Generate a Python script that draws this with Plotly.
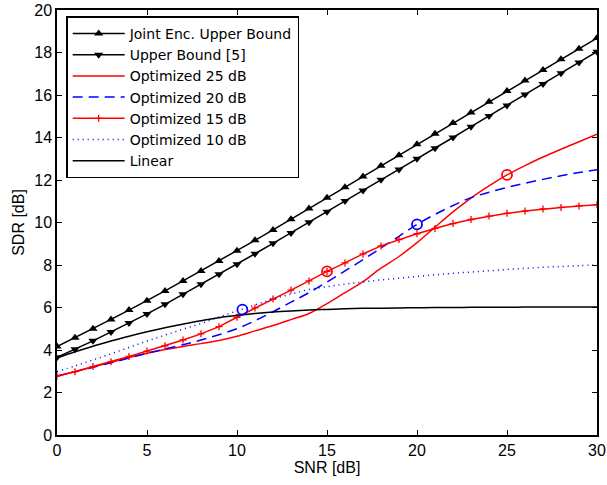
import plotly.graph_objects as go

# SNR grid in dB
snr = list(range(0, 31))

joint_upper = [4.16, 4.58, 5.00, 5.44, 5.88, 6.32, 6.78, 7.25, 7.72, 8.19, 8.67,
               9.16, 9.65, 10.15, 10.66, 11.16, 11.66, 12.16, 12.67, 13.17, 13.68,
               14.18, 14.68, 15.18, 15.68, 16.19, 16.68, 17.18, 17.68, 18.18, 18.68]
upper_bound_5 = [3.66, 4.03, 4.43, 4.85, 5.27, 5.70, 6.15, 6.62, 7.09, 7.56, 8.04,
                 8.53, 9.02, 9.51, 10.01, 10.51, 11.01, 11.51, 12.01, 12.50, 13.00,
                 13.50, 14.00, 14.51, 15.01, 15.51, 16.02, 16.52, 17.02, 17.53, 18.04]
opt25 = [2.78, 2.98, 3.20, 3.42, 3.65, 3.85, 4.02, 4.17, 4.30, 4.45, 4.65,
         4.90, 5.15, 5.43, 5.72, 6.18, 6.70, 7.22, 7.85, 8.40, 9.05,
         9.78, 10.50, 11.15, 11.72, 12.24, 12.68, 13.08, 13.45, 13.80, 14.15]
opt20 = [2.78, 2.98, 3.19, 3.40, 3.62, 3.85, 4.05, 4.25, 4.47, 4.72, 5.00,
         5.38, 5.80, 6.25, 6.70, 7.20, 7.72, 8.25, 8.80, 9.35, 9.91,
         10.38, 10.80, 11.17, 11.42, 11.65, 11.85, 12.03, 12.20, 12.35, 12.48]
opt15 = [2.78, 2.98, 3.22, 3.45, 3.70, 3.95, 4.20, 4.47, 4.76, 5.10, 5.54,
         5.98, 6.40, 6.82, 7.25, 7.70, 8.10, 8.52, 8.90, 9.20, 9.47,
         9.72, 9.95, 10.14, 10.30, 10.43, 10.54, 10.64, 10.71, 10.78, 10.84]
opt10 = [2.98, 3.25, 3.53, 3.82, 4.12, 4.42, 4.70, 4.98, 5.25, 5.55, 5.84,
         6.12, 6.40, 6.63, 6.85, 6.98, 7.10, 7.20, 7.30, 7.38, 7.46,
         7.54, 7.61, 7.67, 7.73, 7.79, 7.84, 7.89, 7.93, 7.97, 8.00]
linear = [3.62, 3.92, 4.18, 4.42, 4.65, 4.86, 5.05, 5.22, 5.38, 5.52, 5.63,
          5.72, 5.79, 5.84, 5.88, 5.91, 5.94, 5.96, 5.97, 5.98, 5.99,
          6.00, 6.00, 6.01, 6.01, 6.01, 6.02, 6.02, 6.02, 6.02, 6.02]

# Design points (SNR, SDR) of each optimized system
design_blue_snr = [10.3, 20.0]
design_blue_sdr = [5.90, 9.91]
design_red_snr = [15.0, 25.0]
design_red_sdr = [7.70, 12.24]

x_ticks = [0, 5, 10, 15, 20, 25, 30]
y_ticks = [0, 2, 4, 6, 8, 10, 12, 14, 16, 18, 20]

FONT = "Liberation Sans, Arial, sans-serif"
LEGEND_FONT = "DejaVu Sans, sans-serif"

fig = go.Figure()

fig.add_trace(go.Scatter(x=snr, y=joint_upper, name="Joint Enc. Upper Bound",
                         mode="lines+markers",
                         line=dict(color="black", width=1.5),
                         marker=dict(symbol="triangle-up", size=8, color="black")))
fig.add_trace(go.Scatter(x=snr, y=upper_bound_5, name="Upper Bound [5]",
                         mode="lines+markers",
                         line=dict(color="black", width=1.5),
                         marker=dict(symbol="triangle-down", size=8, color="black")))
fig.add_trace(go.Scatter(x=snr, y=opt25, name="Optimized 25 dB", mode="lines",
                         line=dict(color="#ff0000", width=1.5, shape="spline")))
fig.add_trace(go.Scatter(x=snr, y=opt20, name="Optimized 20 dB", mode="lines",
                         line=dict(color="#0000ff", width=1.5, dash="10px,6px",
                                   shape="spline")))
fig.add_trace(go.Scatter(x=snr, y=opt15, name="Optimized 15 dB",
                         mode="lines+markers",
                         line=dict(color="#ff0000", width=1.5),
                         marker=dict(symbol="cross-thin", size=5, color="#ff0000",
                                     line=dict(color="#ff0000", width=1.3))))
fig.add_trace(go.Scatter(x=snr, y=opt10, name="Optimized 10 dB", mode="lines",
                         line=dict(color="#0000ff", width=1.5, dash="1px,4px",
                                   shape="spline")))
fig.add_trace(go.Scatter(x=snr, y=linear, name="Linear", mode="lines",
                         line=dict(color="black", width=1.5, shape="spline")))

fig.add_trace(go.Scatter(x=design_blue_snr, y=design_blue_sdr, mode="markers",
                         showlegend=False,
                         marker=dict(symbol="circle-open", size=10, color="#0000ff",
                                     line=dict(width=1.8))))
fig.add_trace(go.Scatter(x=design_red_snr, y=design_red_sdr, mode="markers",
                         showlegend=False,
                         marker=dict(symbol="circle-open", size=10, color="#ff0000",
                                     line=dict(width=1.8))))

axis_common = dict(showgrid=False, zeroline=False, showline=True, mirror="ticks",
                   linecolor="black", linewidth=1.5, ticks="inside", ticklen=5,
                   tickwidth=1, tickcolor="black", automargin=False,
                   tickfont=dict(family=FONT, size=16, color="black"))

fig.update_xaxes(range=[0, 30], tickvals=x_ticks,
                 title=dict(text="SNR [dB]", standoff=2,
                            font=dict(family=FONT, size=16, color="black")),
                 **axis_common)
fig.update_yaxes(range=[0, 20], tickvals=y_ticks,
                 title=dict(text="SDR [dB]", standoff=6,
                            font=dict(family=FONT, size=16, color="black")),
                 **axis_common)

fig.update_layout(
    width=607, height=485,
    margin=dict(l=57, r=10, t=10, b=50),
    paper_bgcolor="white", plot_bgcolor="white",
    legend=dict(x=0.017, y=0.985, xanchor="left", yanchor="top",
                bgcolor="white", bordercolor="black", borderwidth=1.5,
                font=dict(family=LEGEND_FONT, size=14, color="black"),
                tracegroupgap=0, itemwidth=52),
)

fig.write_html("out.html")
